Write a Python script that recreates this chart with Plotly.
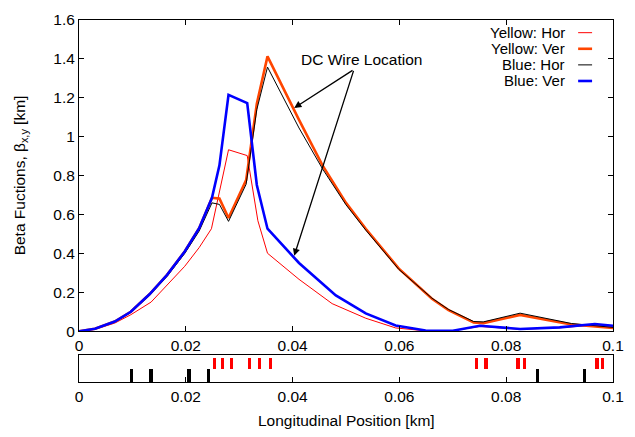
import plotly.graph_objects as go

# ---- data ----
x_yh = [0, 0.003, 0.0067, 0.0097, 0.0135, 0.0165, 0.0198, 0.0225, 0.0248, 0.0280, 0.0315, 0.0335, 0.0353,
        0.0412, 0.0474, 0.0537, 0.0593, 0.0650, 0.0700, 0.0751, 0.0826, 0.0900, 0.0966, 0.1000]
y_yh = [0, 0.01, 0.042, 0.085, 0.15, 0.235, 0.334, 0.43, 0.527, 0.933, 0.903, 0.568, 0.401,
        0.267, 0.142, 0.067, 0.017, 0.002, 0.003, 0.025, 0.01, 0.018, 0.032, 0.025]

x_yv = [0, 0.003, 0.0067, 0.0097, 0.0132, 0.0165, 0.0198, 0.0225, 0.0249, 0.0263, 0.0280, 0.0313, 0.0333,
        0.0353, 0.0412, 0.0456, 0.0500, 0.0537, 0.0599, 0.0661, 0.0692, 0.0739, 0.0757, 0.0826, 0.0922, 0.1000]
y_yv = [0, 0.013, 0.05, 0.10, 0.19, 0.29, 0.41, 0.53, 0.686, 0.682, 0.582, 0.777, 1.17,
        1.413, 1.087, 0.853, 0.66, 0.527, 0.322, 0.167, 0.109, 0.045, 0.042, 0.084, 0.035, 0.017]

x_bh = x_yv
y_bh = [0, 0.012, 0.048, 0.097, 0.185, 0.283, 0.40, 0.515, 0.66, 0.652, 0.565, 0.756, 1.14,
        1.358, 1.045, 0.835, 0.65, 0.52, 0.318, 0.17, 0.112, 0.05, 0.048, 0.093, 0.04, 0.02]

x_bv = [0, 0.003, 0.0067, 0.0097, 0.0132, 0.0165, 0.0198, 0.0225, 0.0249, 0.0263, 0.0280, 0.0315, 0.0333,
        0.0353, 0.0412, 0.0450, 0.0481, 0.0537, 0.0593, 0.0649, 0.0700, 0.0751, 0.0790, 0.0826, 0.0900,
        0.0966, 0.1000]
y_bv = [0, 0.013, 0.05, 0.10, 0.19, 0.29, 0.41, 0.53, 0.686, 0.853, 1.215, 1.173, 0.752,
        0.527, 0.351, 0.26, 0.184, 0.092, 0.030, 0.004, 0.003, 0.028, 0.02, 0.012, 0.02,
        0.037, 0.028]

red_elements = [0.0253, 0.0269, 0.0285, 0.0319, 0.0338, 0.0358, 0.0744, 0.0762, 0.0822, 0.0834, 0.0970, 0.0981]
black_elements = [0.0098, 0.0135, 0.0206, 0.0242, 0.0859, 0.0946]

series_names = ["Yellow: Hor", "Yellow: Ver", "Blue: Hor", "Blue: Ver"]
series_colors = ["#ff0000", "#ff4500", "#000000", "#0000ff"]
series_widths = [1, 2.6, 1, 2.6]

FONT = "Liberation Sans, Arial, Helvetica, sans-serif"
FS = 15.5
FS_LEG = 15

fig = go.Figure()
for xs, ys, name, c, w in zip([x_yh, x_yv, x_bh, x_bv], [y_yh, y_yv, y_bh, y_bv],
                              series_names, series_colors, series_widths):
    fig.add_trace(go.Scatter(x=xs, y=ys, mode="lines", name=name,
                             line=dict(color=c, width=w), showlegend=False,
                             xaxis="x", yaxis="y"))

# lattice panel
fig.add_trace(go.Bar(x=red_elements, y=[0.41] * len(red_elements), base=[0.49] * len(red_elements),
                     width=0.0006, marker=dict(color="#ff0000", line=dict(width=0)),
                     xaxis="x2", yaxis="y2", showlegend=False))
fig.add_trace(go.Bar(x=black_elements, y=[0.49] * len(black_elements), base=[0] * len(black_elements),
                     width=0.0006, marker=dict(color="#000000", line=dict(width=0)),
                     xaxis="x2", yaxis="y2", showlegend=False))

H_PLOT = 437 - 11 - 55
main_bottom = (382 - 330) / H_PLOT
low_top = (382 - 354) / H_PLOT

axis_common = dict(showline=True, linecolor="black", linewidth=1, mirror="ticks",
                   ticks="inside", ticklen=5, tickcolor="black", showgrid=False,
                   zeroline=False, tickfont=dict(family=FONT, size=FS, color="black"))

fig.update_layout(
    width=635, height=437,
    margin=dict(l=79, r=20, t=11, b=55),
    paper_bgcolor="white", plot_bgcolor="white",
    font=dict(family=FONT, size=FS, color="black"),
    bargap=0,
    xaxis=dict(range=[0, 0.1], dtick=0.02, anchor="y", domain=[0, 1], **axis_common),
    yaxis=dict(range=[0, 1.6], dtick=0.2, domain=[main_bottom, 1], anchor="x", **axis_common),
    xaxis2=dict(range=[0, 0.1], dtick=0.02, anchor="y2", domain=[0, 1], showline=True,
                linecolor="black", linewidth=1, mirror=True, ticks="inside", ticklen=5,
                tickcolor="black", showgrid=False, zeroline=False,
                tickfont=dict(family=FONT, size=FS, color="black")),
    yaxis2=dict(range=[0, 1], domain=[0, low_top], anchor="x2", showline=True, linecolor="black",
                linewidth=1, mirror=True, ticks="", showticklabels=False, showgrid=False,
                zeroline=False),
)

annotations = [
    dict(text="Beta Fuctions, β<sub>x,y</sub> [km]", xref="paper", yref="paper",
         x=(20 - 79) / 536, y=(382 - 170) / H_PLOT, textangle=-90, showarrow=False,
         xanchor="center", yanchor="middle", font=dict(size=FS)),
    dict(text="Longitudinal Position [km]", xref="paper", yref="paper",
         x=0.5, y=(382 - 421) / H_PLOT, showarrow=False, xanchor="center", yanchor="middle",
         font=dict(size=FS)),
    dict(text="DC Wire Location", xref="x", yref="y", x=0.0529, y=1.396, showarrow=False,
         xanchor="center", yanchor="middle", font=dict(size=FS)),
    dict(text="", x=0.0403, y=1.148, ax=0.0515, ay=1.346, xref="x", yref="y",
         axref="x", ayref="y", showarrow=True, arrowhead=2, arrowsize=1.1, arrowwidth=1.3,
         arrowcolor="black"),
    dict(text="", x=0.0403, y=0.388, ax=0.0515, ay=1.346, xref="x", yref="y",
         axref="x", ayref="y", showarrow=True, arrowhead=2, arrowsize=1.1, arrowwidth=1.3,
         arrowcolor="black"),
]

shapes = []
row_y = [24, 40.5, 57, 73.5]
for name, c, w, py in zip(series_names, series_colors, series_widths, row_y):
    yp = (382 - py) / H_PLOT
    annotations.append(dict(text=name, xref="paper", yref="paper", x=(569 - 79) / 536, y=yp,
                            xanchor="right", yanchor="middle", showarrow=False,
                            font=dict(size=FS_LEG)))
    shapes.append(dict(type="line", xref="paper", yref="paper",
                       x0=(580 - 79) / 536, x1=(594 - 79) / 536, y0=yp, y1=yp,
                       line=dict(color=c, width=w)))

fig.update_layout(annotations=annotations, shapes=shapes)
fig.write_html("out.html", post_script="document.body.style.margin='0';",
               config={"displayModeBar": False})
